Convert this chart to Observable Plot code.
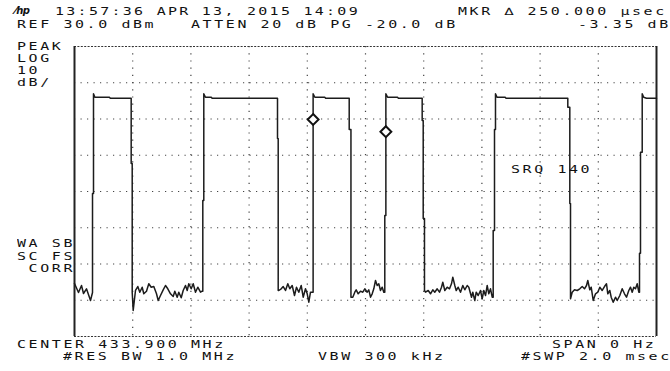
<!DOCTYPE html>
<html><head><meta charset="utf-8">
<script src="https://cdn.jsdelivr.net/npm/d3@7"></script>
<script src="https://cdn.jsdelivr.net/npm/@observablehq/plot@0.6"></script>
<style>
html,body{margin:0;padding:0;background:#fff;}
#wrap{position:relative;width:670px;height:371px;overflow:hidden;background:#fff;}
#wrap svg{position:absolute;left:0;top:0;}
.t{position:absolute;font-family:"DejaVu Sans Mono",monospace;font-size:10.3px;line-height:10px;color:#111;white-space:pre;transform:scaleX(1.45);transform-origin:0 0;letter-spacing:1.8px;}
.t span.last{letter-spacing:0;}
.logo{position:absolute;font-family:"DejaVu Sans",sans-serif;font-style:italic;font-weight:bold;font-size:10px;line-height:10px;color:#111;letter-spacing:-0.5px;}
</style></head><body><div id="wrap"></div>
<script>
// ---- data ----
const sweepMs = [0, 2];            // #SWP 2.0 msec, span 0 Hz
const levelDbm = [-50, 30];        // REF 30.0 dBm, 10 dB/div, 8 div
const gridMs = [0.2, 0.4, 0.6, 0.8, 1.0, 1.2, 1.4, 1.6, 1.8];
const gridDbm = [20, 10, 0, -10, -20, -30, -40];

const traceMs = [
 0,0.0137,0.0241,0.0309,0.0412,0.0550,0.0619,
 0.0619,0.0653,0.0653,0.0700,0.1200,0.1230,0.1948,
 0.1948,0.1983,0.1983,0.2017,0.2096,
 0.2175,0.2244,0.2326,0.2381,0.2474,0.2553,0.2636,0.2725,0.2818,0.2876,0.2955,0.3048,0.3127,0.3206,0.3299,0.3392,0.3447,0.3529,0.3584,0.3667,0.3735,0.3814,0.3873,0.3928,0.4010,0.4079,0.4158,0.4237,0.4330,0.4388,
 0.4409,0.4409,0.4443,0.4443,0.4500,0.4700,0.4730,0.6976,
 0.6976,0.7000,0.7000,
 0.7021,0.7103,0.7172,0.7251,0.7330,0.7399,0.7481,0.7560,0.7629,0.7708,0.7790,0.7859,0.7938,0.7997,0.8052,0.8110,
 0.8200,0.8200,0.8260,0.8600,0.8630,0.9440,
 0.9440,0.9500,0.9500,
 0.9564,0.9632,0.9680,0.9749,0.9828,0.9907,0.9976,1.0058,1.0113,1.0172,1.0230,1.0285,1.0344,1.0402,1.0457,1.0515,1.0574,1.0629,
 1.0663,1.0663,1.0700,1.0700,1.0760,1.1100,1.1130,1.1948,
 1.1948,1.1983,1.1983,1.2027,1.2027,
 1.2062,1.2155,1.2234,1.2313,1.2381,1.2464,1.2543,1.2612,1.2656,1.2725,1.2808,1.2887,1.2955,1.3000,1.3069,1.3117,1.3186,1.3265,1.3344,1.3412,1.3495,1.3550,1.3643,1.3687,1.3756,1.3804,1.3873,1.3952,1.4010,1.4065,1.4124,1.4182,1.4237,1.4296,1.4354,
 1.4388,1.4388,1.4433,1.4433,1.4467,1.4467,1.4520,1.4800,1.4830,1.6952,
 1.6952,1.7021,1.7021,1.7045,1.7045,
 1.7103,1.7182,1.7275,1.7364,1.7447,1.7526,1.7595,1.7639,1.7708,1.7756,1.7825,1.7904,1.7983,1.8052,1.8134,1.8213,1.8282,1.8326,1.8395,1.8443,1.8512,1.8591,1.8649,1.8739,1.8821,1.8900,1.8969,1.9048,1.9107,1.9165,1.9220,1.9278,1.9337,1.9392,
 1.9416,1.9416,1.9450,1.9450,1.9509,1.9509,1.9560,1.9656,2.0
];
const traceDbm = [
 -35.38,-37.86,-35.93,-38.14,-36.84,-40.07,-37.86,
 -10.55,-10.55,16.95,16.0,16.0,15.74,15.74,
 -2.28,-2.28,-37.78,-42.83,-37.31,
 -36.21,-37.78,-36.40,-38.22,-37.50,-35.46,-36.40,-36.21,-38.22,-40.07,-38.69,-37.12,-35.93,-36.84,-38.22,-38.97,-37.50,-39.16,-37.78,-39.32,-37.31,-35.93,-37.31,-35.46,-36.84,-35.46,-37.78,-36.40,-37.78,-37.50,
 -37.50,-12.5,-12.5,16.95,16.0,16.0,15.74,15.74,
 4.62,4.62,-37.31,
 -37.31,-36.84,-36.21,-37.31,-35.46,-36.84,-35.93,-38.69,-36.40,-37.78,-35.93,-39.16,-36.84,-38.22,-40.54,-37.78,
 -37.78,16.95,16.0,16.0,15.74,15.74,
 7.10,7.10,-39.16,
 -39.16,-37.78,-37.12,-38.22,-37.50,-37.78,-36.84,-37.78,-37.12,-39.16,-38.22,-36.84,-34.55,-35.93,-35.46,-37.31,-36.40,-37.78,
 -37.78,-16.62,-16.62,16.95,16.0,16.0,15.74,15.74,
 9.59,9.59,-17.45,-17.45,-37.31,
 -37.78,-37.31,-38.22,-37.12,-37.78,-36.84,-37.78,-36.40,-35.02,-37.31,-36.40,-36.84,-35.46,-33.64,-35.93,-37.31,-36.40,-37.78,-35.93,-37.12,-35.93,-36.40,-39.16,-37.78,-40.07,-37.78,-38.69,-37.31,-39.60,-37.31,-38.69,-35.93,-38.22,-36.84,-39.16,
 -39.16,-20.76,-20.76,7.10,7.10,16.95,16.0,16.0,15.74,15.74,
 13.26,13.26,-13.31,-13.31,-39.60,
 -37.78,-37.12,-37.31,-36.84,-36.21,-36.84,-35.93,-34.55,-37.12,-36.40,-40.07,-38.22,-37.78,-36.40,-37.31,-36.21,-35.46,-38.22,-37.31,-39.16,-40.54,-39.16,-40.07,-38.69,-36.84,-38.22,-39.16,-37.31,-36.40,-37.78,-36.40,-36.84,-35.46,-37.78,
 -37.78,-27.02,-27.02,0.84,0.84,16.95,16.0,15.74,15.74
];

const markerMs = [0.8200, 1.0700];
const markerDbm = [9.86, 6.5];

const headerLine1 = "13:57:36 APR 13, 2015 14:09";
const markerText = "MKR \u2206 250.000 \u00b5sec";
const headerLine2 = "REF 30.0 dBm   ATTEN 20 dB PG -20.0 dB";
const markerDelta = "-3.35 dB";
const leftLabels = ["PEAK", "LOG", "10", "dB/"];
const statusLabels = ["WA SB", "SC FS", " CORR"];
const srqText = "SRQ 140";
const footerLeft = ["CENTER 433.900 MHz", "#RES BW 1.0 MHz"];
const footerMid = "VBW 300 kHz";
const footerRight = ["SPAN 0 Hz", "#SWP 2.0 msec"];

// ---- chart ----
const trace = traceMs.map((t, i) => ({t, v: traceDbm[i]}));
const markers = markerMs.map((t, i) => ({t, v: markerDbm[i]}));

const chart = Plot.plot({
  width: 670, height: 371,
  marginLeft: 74, marginRight: 14, marginTop: 46, marginBottom: 35,
  x: {domain: sweepMs, axis: null},
  y: {domain: levelDbm, axis: null},
  style: {background: "transparent"},
  marks: [
    Plot.ruleY(gridDbm, {stroke: "#444", strokeWidth: 1.2, strokeDasharray: "1.2,5.3"}),
    Plot.ruleX(gridMs, {stroke: "#444", strokeWidth: 1.2, strokeDasharray: "1.2,6"}),
    Plot.ruleY([levelDbm[1], levelDbm[0]], {stroke: "#333", strokeWidth: 1.2, strokeDasharray: "2,1.4"}),
    Plot.ruleX([sweepMs[0], sweepMs[1]], {stroke: "#222", strokeWidth: 2}),
    Plot.line(trace, {x: "t", y: "v", stroke: "#1c1c1c", strokeWidth: 1.5}),
    Plot.dot(markers, {x: "t", y: "v", symbol: "diamond2", r: 4.9, stroke: "#111", strokeWidth: 2, fill: "white"})
  ]
});
const wrap = document.getElementById("wrap");
wrap.appendChild(chart);

function addText(str, x, cy, cls, ls) {
  const d = document.createElement("div");
  d.className = cls || "t";
  if (!cls) {
    d.appendChild(document.createTextNode(str.slice(0, -1)));
    const s = document.createElement("span");
    s.className = "last";
    s.textContent = str.slice(-1);
    d.appendChild(s);
  } else {
    d.textContent = str;
  }
  d.style.left = x + "px";
  d.style.top = (cy - 5) + "px";
  if (ls != null) d.style.letterSpacing = ls + "px";
  wrap.appendChild(d);
  return d;
}
addText("\u2044hp", 15, 11, "logo");
addText(headerLine1, 55, 11, null, 1.59);
addText(markerText, 458, 11);
addText(headerLine2, 17, 23.5);
addText(markerDelta, 578, 23.5);
const leftY = [45.5, 57.5, 69.5, 81.5];
leftLabels.forEach((s, i) => addText(s, 17, leftY[i]));
const statusY = [243, 255.5, 268];
statusLabels.forEach((s, i) => addText(s, 17, statusY[i]));
addText(srqText, 511, 169);
addText(footerLeft[0], 17, 343.5);
addText(footerLeft[1], 63, 356);
addText(footerMid, 318, 356);
addText(footerRight[0], 552, 343.5);
addText(footerRight[1], 521, 356);
</script></body></html>
